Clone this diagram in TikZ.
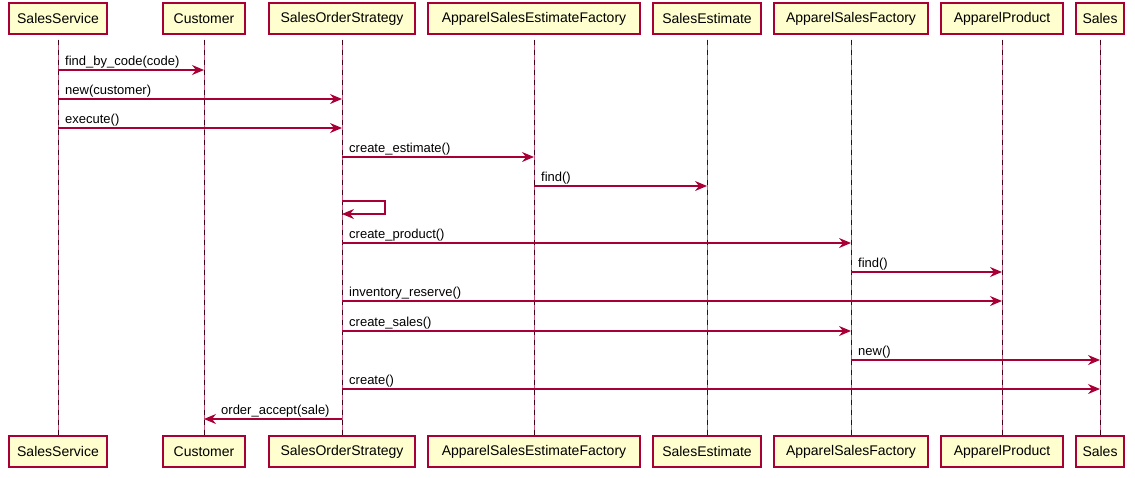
\documentclass[tikz,border=0pt]{standalone}
\usepackage{fontspec}
\setmainfont{Liberation Sans}
\usetikzlibrary{arrows.meta}
\definecolor{umlred}{HTML}{A80036}
\definecolor{umlfill}{HTML}{FEFECE}
\tikzset{
  partbox/.style={draw=umlred, fill=umlfill, line width=1.4pt, minimum height=31pt,
    inner sep=0pt, font=\fontsize{14}{16}\selectfont},
  lifeline/.style={draw=umlred!65, line width=1pt,
    postaction={draw=umlred!40!black, dash pattern=on 5pt off 5pt}},
  msgline/.style={draw=umlred, line width=1.1pt, -{Stealth[length=12pt,width=10pt,inset=4pt]}},
  msglabel/.style={font=\fontsize{13}{15}\selectfont, anchor=base west, inner sep=0pt}
}
\begin{document}
\begin{tikzpicture}[x=1pt,y=-1pt]
\useasboundingbox (0,0) rectangle (1135,477);
% participants, top and bottom
\foreach \n/\x/\w/\txt in {SS/58/98/SalesService, Cu/204/82/Customer,
    SOS/342/146/SalesOrderStrategy, ASEF/534/212/ApparelSalesEstimateFactory,
    SE/707/108/SalesEstimate, ASF/851/154/ApparelSalesFactory,
    AP/1002/122/ApparelProduct, Sa/1100/48/Sales} {
  \node[partbox, minimum width=\w pt] (t\n) at (\x,18.5) {\txt};
  \node[partbox, minimum width=\w pt] (b\n) at (\x,451.5) {\txt};
  \draw[lifeline] (t\n.south) ++(0,5) -- (b\n.north);
}
% messages
\foreach \y/\a/\b/\txt in {70/SS/Cu/{find\_by\_code(code)}, 99/SS/SOS/{new(customer)},
    128/SS/SOS/{execute()}, 157/SOS/ASEF/{create\_estimate()}, 186/ASEF/SE/{find()},
    243/SOS/ASF/{create\_product()}, 272/ASF/AP/{find()},
    301/SOS/AP/{inventory\_reserve()}, 331/SOS/ASF/{create\_sales()},
    360/ASF/Sa/{new()}, 389/SOS/Sa/{create()}} {
  \draw[msgline] (t\a |- 0,\y) -- (t\b |- 0,\y);
  \path (t\a |- 0,\y) ++(7,-5) node[msglabel] {\txt};
}
% self call
\coordinate (selfA) at (tSOS |- 0,201);
\coordinate (selfB) at (tSOS |- 0,214);
\draw[msgline] (selfA) -- ++(43,0) |- (selfB);
% reply to customer
\draw[msgline] (tSOS |- 0,419) -- (tCu |- 0,419);
\path (tCu |- 0,419) ++(17,-5) node[msglabel] {order\_accept(sale)};
\end{tikzpicture}
\end{document}
